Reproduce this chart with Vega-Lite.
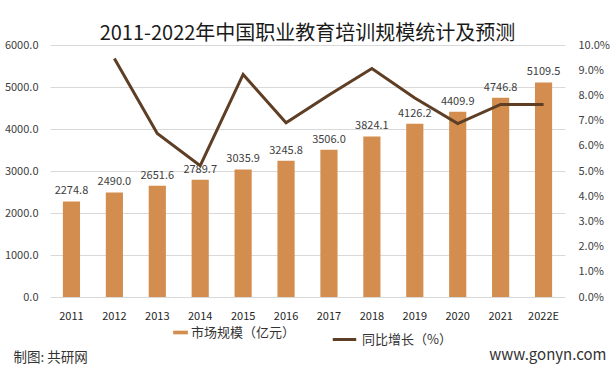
{
  "$schema": "https://vega.github.io/schema/vega-lite/v6.json",
  "width": 515,
  "height": 252,
  "autosize": {"type": "none"},
  "padding": {"left": 50, "top": 45, "right": 47, "bottom": 74},
  "background": "white",
  "config": {
    "font": "Noto Sans CJK SC",
    "view": {"stroke": null},
    "axis": {"labelFont": "Noto Sans CJK SC", "titleFont": "Noto Sans CJK SC"},
    "legend": {"labelFont": "Noto Sans CJK SC"}
  },
  "title": {
    "text": "2011-2022年中国职业教育培训规模统计及预测",
    "fontSize": 20,
    "fontWeight": "normal",
    "color": "#1a1a1a",
    "anchor": "middle",
    "offset": -5
  },
  "data": {
    "values": [
      {"year": "2011", "value": 2274.8, "growth": null},
      {"year": "2012", "value": 2490.0, "growth": 0.0946},
      {"year": "2013", "value": 2651.6, "growth": 0.0649},
      {"year": "2014", "value": 2789.7, "growth": 0.0521},
      {"year": "2015", "value": 3035.9, "growth": 0.0883},
      {"year": "2016", "value": 3245.8, "growth": 0.0691},
      {"year": "2017", "value": 3506.0, "growth": 0.0802},
      {"year": "2018", "value": 3824.1, "growth": 0.0907},
      {"year": "2019", "value": 4126.2, "growth": 0.0790},
      {"year": "2020", "value": 4409.9, "growth": 0.0688},
      {"year": "2021", "value": 4746.8, "growth": 0.0764},
      {"year": "2022E", "value": 5109.5, "growth": 0.0764}
    ]
  },
  "encoding": {
    "x": {
      "field": "year",
      "type": "nominal",
      "sort": null,
      "scale": {"paddingInner": 0.6, "paddingOuter": 0.3},
      "axis": {
        "title": null,
        "labelAngle": 0,
        "domain": false,
        "ticks": false,
        "labelPadding": 13,
        "labelFontSize": 11,
        "labelColor": "#262626"
      }
    }
  },
  "layer": [
    {
      "layer": [
        {
          "mark": {"type": "bar"},
          "encoding": {
            "y": {
              "field": "value",
              "type": "quantitative",
              "scale": {"domain": [0, 6000], "nice": false},
              "axis": {
                "title": "制图: 共研网",
                "titleAngle": 0,
                "titleX": -37,
                "titleY": 312,
                "titleAlign": "left",
                "titleBaseline": "middle",
                "titleFontSize": 13.5,
                "titleFontWeight": "normal",
                "titleColor": "#333333",
                "values": [0, 1000, 2000, 3000, 4000, 5000, 6000],
                "format": ".1f",
                "domain": false,
                "ticks": false,
                "labelPadding": 12,
                "labelFontSize": 11,
                "labelColor": "#404040",
                "gridColor": "#D9D9D9",
                "gridWidth": 1
              }
            },
            "fill": {
              "datum": "市场规模（亿元）",
              "scale": {"range": ["#D38D4E"]},
              "legend": {
                "orient": "none",
                "legendX": 124,
                "legendY": 281,
                "title": null,
                "symbolType": "M-1.2,-0.3H1.2V0.3H-1.2Z",
                "symbolSize": 150,
                "symbolStrokeWidth": 0,
                "labelFontSize": 13,
                "labelColor": "#333333"
              }
            }
          }
        },
        {
          "mark": {"type": "text", "dy": -10, "fontSize": 11, "color": "#404040"},
          "encoding": {
            "y": {"field": "value", "type": "quantitative"},
            "text": {"field": "value", "type": "quantitative", "format": ".1f"}
          }
        }
      ]
    },
    {
      "transform": [{"filter": "datum.growth != null"}],
      "mark": {"type": "line", "strokeWidth": 3},
      "encoding": {
        "y": {
          "field": "growth",
          "type": "quantitative",
          "scale": {"domain": [0, 0.1], "nice": false},
          "axis": {
            "orient": "right",
            "title": "www.gonyn.com",
            "titleAngle": 0,
            "titleX": 41,
            "titleY": 309,
            "titleAlign": "right",
            "titleBaseline": "middle",
            "titleFontSize": 15,
            "titleFontWeight": "normal",
            "titleColor": "#333333",
            "values": [0, 0.01, 0.02, 0.03, 0.04, 0.05, 0.06, 0.07, 0.08, 0.09, 0.1],
            "format": ".1%",
            "grid": false,
            "domain": false,
            "ticks": false,
            "labelPadding": 13,
            "labelFontSize": 11,
            "labelColor": "#404040"
          }
        },
        "stroke": {
          "datum": "同比增长（%）",
          "scale": {"range": ["#5E3E24"]},
          "legend": {
            "orient": "none",
            "legendX": 281,
            "legendY": 281,
            "title": null,
            "symbolType": "stroke",
            "symbolSize": 550,
            "symbolStrokeWidth": 3,
            "labelFontSize": 13,
            "labelColor": "#333333"
          }
        }
      }
    }
  ],
  "resolve": {"scale": {"y": "independent", "fill": "independent", "stroke": "independent"}}
}
